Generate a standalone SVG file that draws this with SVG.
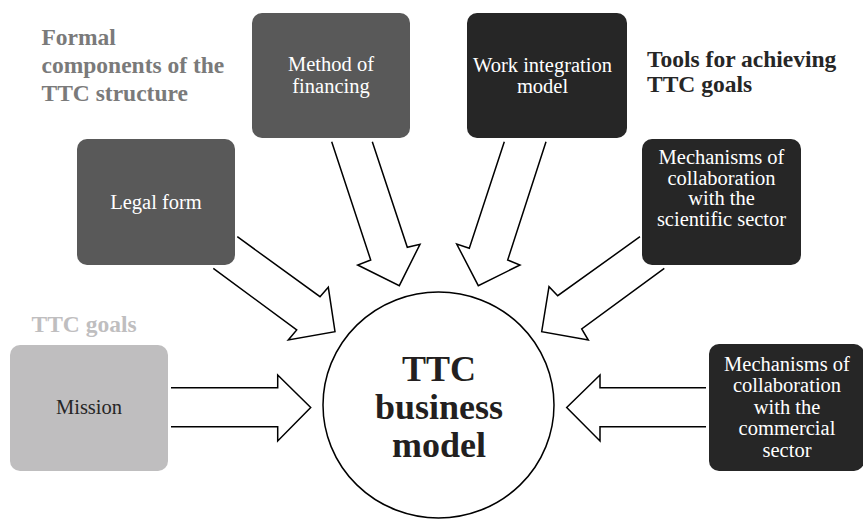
<svg xmlns="http://www.w3.org/2000/svg" width="863" height="519" viewBox="0 0 863 519" font-family="Liberation Serif, Times New Roman, DejaVu Serif, serif">
  <style>
    .box-mid { fill: #595959; }
    .box-dark { fill: #262626; }
    .box-light { fill: #bfbebf; }
    .lbl { font-size: 20.5px; fill: #ffffff; text-anchor: middle; }
    .lbl-dark { fill: #262626; }
    .head { font-size: 23.5px; font-weight: bold; }
    .arrow { fill: #ffffff; stroke: #000000; stroke-width: 1.5; stroke-linejoin: miter; }
    .hub { fill: #ffffff; stroke: #000000; stroke-width: 1.5; }
    .hub-text { font-size: 36px; font-weight: bold; fill: #231f20; text-anchor: middle; }
  </style>

  <!-- group headings -->
  <g id="headings">
    <text class="head" x="41.5" y="45" fill="#7a7a7a">Formal</text>
    <text class="head" x="41.5" y="73" fill="#7a7a7a">components of the</text>
    <text class="head" x="41.5" y="101" fill="#7a7a7a">TTC structure</text>
    <text class="head" x="647" y="67" fill="#262626">Tools for achieving</text>
    <text class="head" x="647" y="92" fill="#262626">TTC goals</text>
    <text class="head" x="31.5" y="332" fill="#bfbebf">TTC goals</text>
  </g>

  <!-- block arrows pointing into the business model -->
  <g id="connectors">
    <path class="arrow" d="M331.7,141.7 L370.7,260 L357.7,265 L399.3,285.7 L420,244.3 L407.3,247.3 L372.3,141.7"/>
    <path class="arrow" d="M504.3,141.7 L469.3,248.3 L456.7,244 L478.3,285.7 L520,265 L507.7,260 L546,141.7"/>
    <path class="arrow" d="M237.3,236.7 L320,296.7 L328.3,287.3 L335,331.7 L288.3,340 L296.7,330 L213.3,268.3"/>
    <path class="arrow" d="M640,236.7 L557.7,295.7 L549,286.7 L541.7,331.7 L588.3,340 L581.7,329 L664.3,268.3"/>
    <path class="arrow" d="M171,387.7 L277.7,387.7 L277.7,375 L310.7,407.5 L277.7,441 L277.7,426.7 L171,426.7"/>
    <path class="arrow" d="M706,387.7 L600,387.7 L600,375 L566.7,407.5 L600,441 L600,426.7 L706,426.7"/>
  </g>

  <g id="method-of-financing">
    <rect class="box-mid" x="252" y="13" width="158" height="125" rx="10"/>
    <text class="lbl" x="331" y="71">Method of</text>
    <text class="lbl" x="331" y="92.5">financing</text>
  </g>

  <g id="legal-form">
    <rect class="box-mid" x="77" y="139" width="158" height="126" rx="10"/>
    <text class="lbl" x="156" y="208.5">Legal form</text>
  </g>

  <g id="work-integration-model">
    <rect class="box-dark" x="467" y="13" width="160" height="125" rx="10"/>
    <text class="lbl" x="542.5" y="71.5">Work integration</text>
    <text class="lbl" x="542.5" y="92.5">model</text>
  </g>

  <g id="collab-scientific">
    <rect class="box-dark" x="642" y="139" width="159" height="126" rx="10"/>
    <text class="lbl" x="721.5" y="164">Mechanisms of</text>
    <text class="lbl" x="721.5" y="184.5">collaboration</text>
    <text class="lbl" x="721.5" y="205">with the</text>
    <text class="lbl" x="721.5" y="225.5">scientific sector</text>
  </g>

  <g id="mission">
    <rect class="box-light" x="10" y="345" width="158" height="126" rx="10"/>
    <text class="lbl lbl-dark" x="89" y="414">Mission</text>
  </g>

  <g id="collab-commercial">
    <rect class="box-dark" x="709" y="344" width="155" height="127" rx="10"/>
    <text class="lbl" x="787" y="370.7">Mechanisms of</text>
    <text class="lbl" x="787" y="392.2">collaboration</text>
    <text class="lbl" x="787" y="413.7">with the</text>
    <text class="lbl" x="787" y="435.2">commercial</text>
    <text class="lbl" x="787" y="456.7">sector</text>
  </g>

  <g id="business-model">
    <ellipse class="hub" cx="438.5" cy="405" rx="115.5" ry="113"/>
    <text class="hub-text" x="439" y="381">TTC</text>
    <text class="hub-text" x="439" y="419">business</text>
    <text class="hub-text" x="439" y="457">model</text>
  </g>
</svg>
